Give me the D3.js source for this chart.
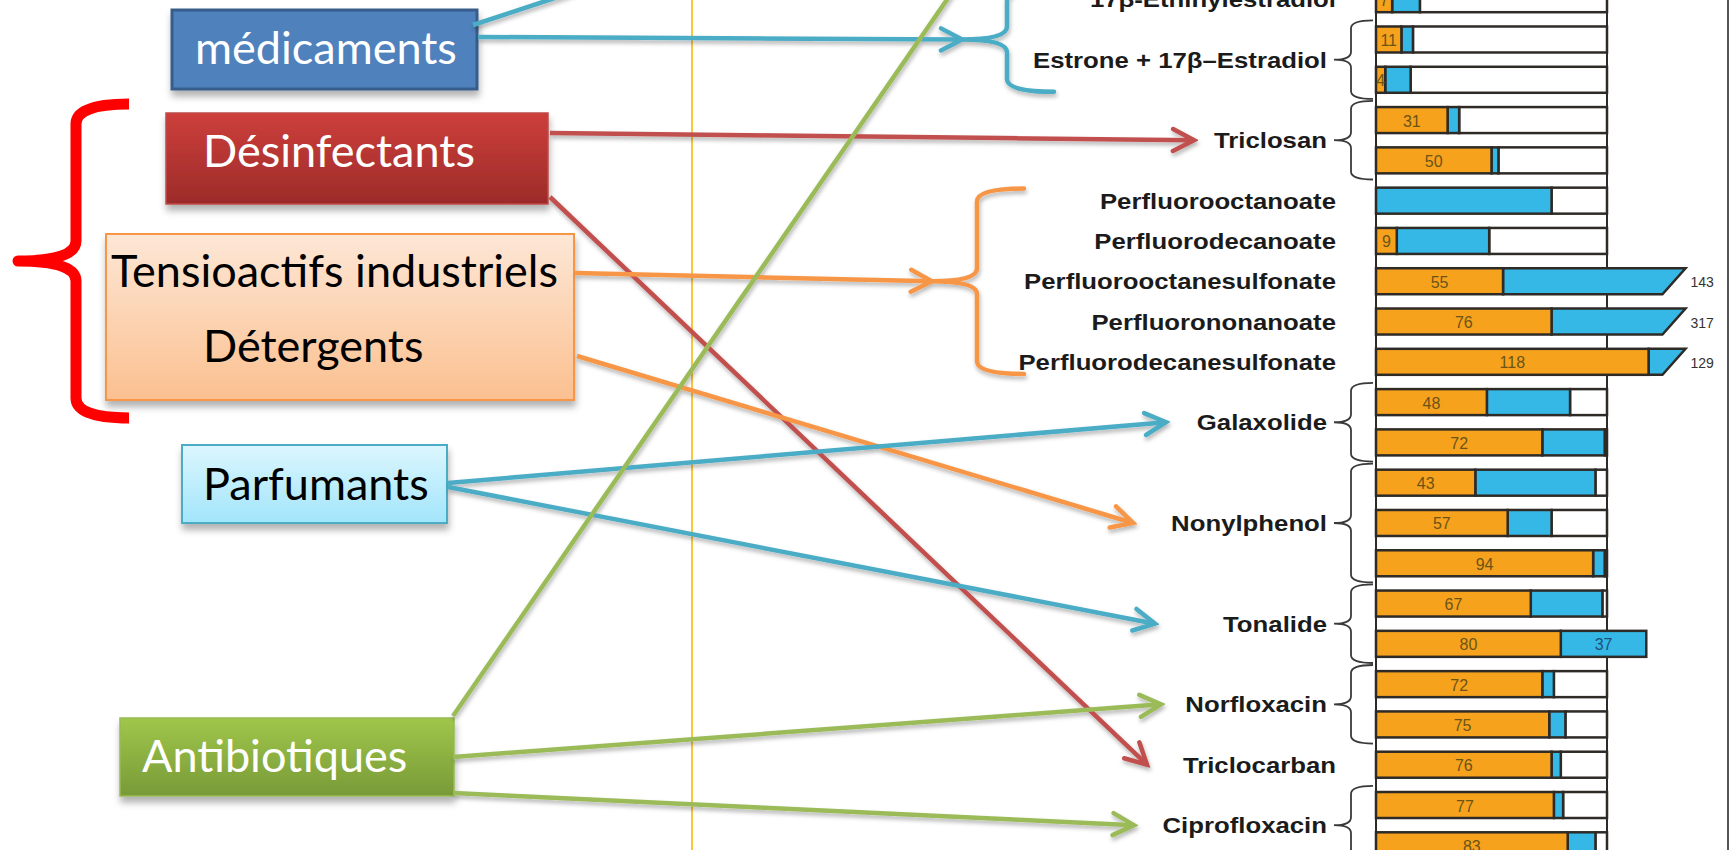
<!DOCTYPE html>
<html>
<head>
<meta charset="utf-8">
<script src="https://cdn.jsdelivr.net/npm/d3@7"></script>
<style>
  body { margin: 0; background: #fff; overflow: hidden; }
</style>
</head>
<body>
<script>
// ---- data ----
const compounds = ["17β-Ethinylestradiol", "Estrone + 17β–Estradiol", "Triclosan",
  "Perfluorooctanoate", "Perfluorodecanoate", "Perfluorooctanesulfonate",
  "Perfluorononanoate", "Perfluorodecanesulfonate", "Galaxolide", "Nonylphenol",
  "Tonalide", "Norfloxacin", "Triclocarban", "Ciprofloxacin"];
// one entry per bar: which compound it belongs to
const rowCompound = [0, 1, 1, 2, 2, 3, 4, 5, 6, 7, 8, 8, 9, 9, 9, 10, 10, 11, 11, 12, 13, 13];
const orangeValues = [7, 11, 4, 31, 50, 0, 9, 55, 76, 118, 48, 72, 43, 57, 94, 67, 80, 72, 75, 76, 77, 83];
const blueValues = [12, 5, 11, 5, 3, 76, 40, 88, 241, 11, 36, 27, 52, 19, 5, 31, 37, 5, 7, 4, 4, 12];

const categories = ["médicaments", "Désinfectants", "Tensioactifs industriels", "Détergents", "Parfumants", "Antibiotiques"];
// which category points at which compounds ([] = something above the crop)
const links = [
  ["médicaments", ["17β-Ethinylestradiol", "Estrone + 17β–Estradiol"]],
  ["médicaments", []],
  ["Désinfectants", ["Triclosan"]],
  ["Désinfectants", ["Triclocarban"]],
  ["Tensioactifs industriels", ["Perfluorooctanoate", "Perfluorodecanoate", "Perfluorooctanesulfonate", "Perfluorononanoate", "Perfluorodecanesulfonate"]],
  ["Détergents", ["Nonylphenol"]],
  ["Parfumants", ["Galaxolide"]],
  ["Parfumants", ["Tonalide"]],
  ["Antibiotiques", []],
  ["Antibiotiques", ["Norfloxacin"]],
  ["Antibiotiques", ["Ciprofloxacin"]]
];

// ---- layout (annotation boxes and where the arrows leave / land) ----
const W = 1734, H = 850;
const boxLayout = {
  "médicaments":              {x: 172, y: 10,  w: 305, h: 79,  tx: 195, ty: 64,  grad: "gMed",  stroke: "#385d8a", sw: 3,   color: "#fff"},
  "Désinfectants":            {x: 166, y: 113, w: 382, h: 91,  tx: 203, ty: 167, grad: "gDes",  stroke: "#be4b48", sw: 1.5, color: "#fff"},
  "Tensioactifs industriels": {x: 106, y: 234, w: 468, h: 166, tx: 111, ty: 287, grad: "gTen",  stroke: "#f79646", sw: 2,   color: "#000"},
  "Détergents":               {x: null, tx: 203, ty: 362, color: "#000"},
  "Parfumants":               {x: 182, y: 445, w: 265, h: 78,  tx: 203, ty: 500, grad: "gPar",  stroke: "#4bacc6", sw: 2,   color: "#000"},
  "Antibiotiques":            {x: 120, y: 718, w: 334, h: 78,  tx: 142, ty: 772, grad: "gAnt",  stroke: "#98b954", sw: 1.5, color: "#fff"}
};
const linkLayout = [
  {sx: 478, sy: 37,  tipX: 962,  color: "#4bacc6"},
  {sx: 473, sy: 25,  tipX: 585,  color: "#4bacc6"},
  {sx: 550, sy: 133, tipX: 1194, color: "#c0504d"},
  {sx: 550, sy: 197, tipX: 1147, color: "#c0504d"},
  {sx: 575, sy: 273, tipX: 932,  color: "#f79646"},
  {sx: 577, sy: 356, tipX: 1133, color: "#f79646"},
  {sx: 448, sy: 483, tipX: 1166, color: "#4bacc6"},
  {sx: 448, sy: 487, tipX: 1155, color: "#4bacc6"},
  {sx: 453, sy: 716, tipX: 955,  color: "#9bbb59"},
  {sx: 453, sy: 757, tipX: 1161, color: "#9bbb59"},
  {sx: 453, sy: 793, tipX: 1134, color: "#9bbb59"}
];

const orange = "#f7a21d", blue = "#35b8e6", edge = "#2e2a26";
const breakLo = 124, breakHi = 134;   // axis break for the very long bars

const svg = d3.select("body").append("svg")
  .attr("width", W).attr("height", H)
  .style("font-family", "'Liberation Sans', Arial, sans-serif");

const defs = svg.append("defs");
const grads = {gMed: ["#4f81bd", "#4f81bd"], gDes: ["#cd3f3b", "#9c2b29"],
  gTen: ["#fde7d6", "#fbc090"], gPar: ["#dcf6fe", "#a2e5fb"], gAnt: ["#a0c64a", "#789a38"]};
Object.entries(grads).forEach(([id, c]) => {
  const g = defs.append("linearGradient").attr("id", id)
    .attr("x1", 0).attr("y1", 0).attr("x2", 0).attr("y2", 1);
  g.append("stop").attr("offset", "0%").attr("stop-color", c[0]);
  g.append("stop").attr("offset", "100%").attr("stop-color", c[1]);
});
const sh = defs.append("filter").attr("id", "shadow")
  .attr("x", "-10%").attr("y", "-20%").attr("width", "130%").attr("height", "150%");
sh.append("feDropShadow").attr("dx", 1).attr("dy", 6).attr("stdDeviation", 3.5)
  .attr("flood-color", "#000").attr("flood-opacity", 0.3);
const lsh = defs.append("filter").attr("id", "lshadow")
  .attr("x", "-5%").attr("y", "-5%").attr("width", "110%").attr("height", "110%");
lsh.append("feDropShadow").attr("dx", 1).attr("dy", 3).attr("stdDeviation", 2)
  .attr("flood-color", "#000").attr("flood-opacity", 0.3);

// open chevron arrowheads, one per colour
const colours = Array.from(new Set(linkLayout.map(d => d.color)));
colours.forEach(c => {
  defs.append("marker").attr("id", "m" + c.slice(1))
    .attr("markerUnits", "userSpaceOnUse")
    .attr("viewBox", "-26 -15 30 30")
    .attr("markerWidth", 30).attr("markerHeight", 30)
    .attr("refX", 0).attr("refY", 0).attr("orient", "auto")
    .append("path").attr("d", "M-21,-11 L0,0 L-21,11")
    .attr("fill", "none").attr("stroke", c).attr("stroke-width", 4.5)
    .attr("stroke-linecap", "round");
});

// ---- scales ----
const x = d3.scaleLinear().domain([0, 100]).range([1376, 1607]);
const y = d3.scalePoint().domain(d3.range(rowCompound.length)).range([-0.8, 845.3]);
const step = y.step();
const barH = 26;

function brace(xTip, xV, xEnd, y0, y1, r) {
  const ym = (y0 + y1) / 2;
  return `M${xEnd},${y0} Q${xV},${y0} ${xV},${y0 + r} L${xV},${ym - r} Q${xV},${ym} ${xTip},${ym}` +
         ` Q${xV},${ym} ${xV},${ym + r} L${xV},${y1 - r} Q${xV},${y1} ${xEnd},${y1}`;
}

// thin yellow guide line
svg.append("line").attr("x1", 692).attr("x2", 692).attr("y1", 0).attr("y2", H)
  .attr("stroke", "#f6b400").attr("stroke-width", 1.5);

// ---- bar chart ----
const chart = svg.append("g");
chart.selectAll("line.ref").data([0, 100]).join("line").attr("class", "ref")
  .attr("x1", d => x(d)).attr("x2", d => x(d)).attr("y1", 0).attr("y2", H)
  .attr("stroke", edge).attr("stroke-width", 2);
chart.append("line").attr("x1", 1728).attr("x2", 1728).attr("y1", 0).attr("y2", H)
  .attr("stroke", "#555").attr("stroke-width", 2);

const rows = rowCompound.map((c, i) => ({i, o: orangeValues[i], b: blueValues[i], t: orangeValues[i] + blueValues[i]}));
const bar = chart.selectAll("g.bar").data(rows).join("g").attr("class", "bar")
  .attr("transform", d => `translate(0,${y(d.i) - barH / 2})`);

bar.filter(d => d.t < 100).append("rect")
  .attr("x", d => x(d.t)).attr("width", d => x(100) - x(d.t)).attr("height", barH)
  .attr("fill", "#fff").attr("stroke", edge).attr("stroke-width", 2.5);
bar.filter(d => d.t <= breakLo && d.b > 0).append("rect")
  .attr("x", d => x(d.o)).attr("width", d => x(d.t) - x(d.o)).attr("height", barH)
  .attr("fill", blue).attr("stroke", edge).attr("stroke-width", 2.5);
bar.filter(d => d.t > breakLo).append("path")
  .attr("d", d => `M${x(d.o)},0 L${x(breakHi)},0 L${x(breakLo)},${barH} L${x(d.o)},${barH} Z`)
  .attr("fill", blue).attr("stroke", edge).attr("stroke-width", 2.5);
bar.filter(d => d.o > 0).append("rect")
  .attr("x", x(0)).attr("width", d => x(d.o) - x(0)).attr("height", barH)
  .attr("fill", orange).attr("stroke", edge).attr("stroke-width", 2.5);

bar.filter(d => d.o > 0).append("text")
  .attr("x", d => x(d.o / 2)).attr("y", barH / 2 + 1)
  .attr("text-anchor", "middle").attr("dominant-baseline", "central")
  .attr("font-size", 16).attr("fill", "#6b5416")
  .text(d => d.o);
bar.filter(d => d.t > 100 && d.t <= breakLo).append("text")
  .attr("x", d => x(d.o + d.b / 2)).attr("y", barH / 2 + 1)
  .attr("text-anchor", "middle").attr("dominant-baseline", "central")
  .attr("font-size", 16).attr("fill", "#1d4f78")
  .text(d => d.b);
bar.filter(d => d.t > breakLo).append("text")
  .attr("x", x(breakHi) + 5).attr("y", barH / 2 + 1)
  .attr("dominant-baseline", "central")
  .attr("font-size", 14).attr("fill", "#333")
  .text(d => d.t);

// compound labels and their dark braces
const groups = compounds.map((name, c) => {
  const idx = rows.filter(r => rowCompound[r.i] === c).map(r => r.i);
  return {name, idx, cy: d3.mean(idx, i => y(i)), multi: idx.length > 1};
});
const lab = chart.selectAll("g.lab").data(groups).join("g").attr("class", "lab")
  .attr("transform", d => `translate(${d.multi ? 1327 : 1336},${d.cy}) scale(1.12,1)`);
lab.append("text")
  .attr("text-anchor", "end").attr("dominant-baseline", "central")
  .attr("font-size", 23).attr("font-weight", "bold").attr("fill", "#1b1b1b")
  .text(d => d.name);
chart.selectAll("path.gb").data(groups.filter(d => d.multi)).join("path").attr("class", "gb")
  .attr("d", d => brace(1334, 1351, 1373, y(d.idx[0]) - step / 2 + 1, y(d.idx[d.idx.length - 1]) + step / 2 - 1, 8))
  .attr("fill", "none").attr("stroke", "#3a3a3a").attr("stroke-width", 1.8);

// ---- category boxes ----
const boxes = svg.append("g");
categories.forEach(cat => {
  const b = boxLayout[cat];
  if (b.x !== null) {
    boxes.append("rect").attr("x", b.x).attr("y", b.y).attr("width", b.w).attr("height", b.h)
      .attr("fill", `url(#${b.grad})`).attr("stroke", b.stroke).attr("stroke-width", b.sw)
      .attr("filter", "url(#shadow)");
  }
});
categories.forEach(cat => {
  const b = boxLayout[cat];
  boxes.append("text").attr("x", b.tx).attr("y", b.ty)
    .attr("font-family", "Lato, 'Open Sans', sans-serif").attr("font-size", 45)
    .attr("fill", b.color).text(cat);
});

// ---- arrows and coloured braces ----
const arrows = svg.append("g").attr("filter", "url(#lshadow)");
const groupByName = new Map(groups.map(g => [g.name, g]));
const linkData = links.map((l, k) => {
  const L = linkLayout[k];
  const gs = l[1].map(n => groupByName.get(n));
  let ty, span = null;
  if (gs.length === 0) {
    ty = -12;
  } else if (gs.length === 1) {
    ty = gs[0].cy;
  } else {
    const all = gs.flatMap(g => g.idx);
    span = [y(d3.min(all)) - step * 0.3, y(d3.max(all)) + step * 0.3];
    ty = (span[0] + span[1]) / 2;
  }
  return {cat: l[0], ...L, ty, span, head: gs.length > 0};
});
const order = linkData.slice().sort((a, b) => (a.color === "#9bbb59") - (b.color === "#9bbb59"));
arrows.selectAll("path.lk").data(order).join("path").attr("class", "lk")
  .attr("d", d => `M${d.sx},${d.sy} L${d.tipX},${d.ty}`)
  .attr("fill", "none").attr("stroke", d => d.color).attr("stroke-width", 4.5)
  .attr("marker-end", d => d.head ? `url(#m${d.color.slice(1)})` : null);
arrows.selectAll("path.cb").data(linkData.filter(d => d.span)).join("path").attr("class", "cb")
  .attr("d", d => brace(d.tipX, d.tipX + 45, d.tipX + 92, d.span[0], d.span[1], 13))
  .attr("fill", "none").attr("stroke", d => d.color).attr("stroke-width", 4.5)
  .attr("stroke-linecap", "round");

// big red brace around the surfactant / disinfectant boxes
svg.append("path")
  .attr("d", brace(18, 76, 129, 104, 418, 20))
  .attr("fill", "none").attr("stroke", "#ff0000").attr("stroke-width", 11)
  .attr("stroke-linejoin", "round");
</script>
</body>
</html>
